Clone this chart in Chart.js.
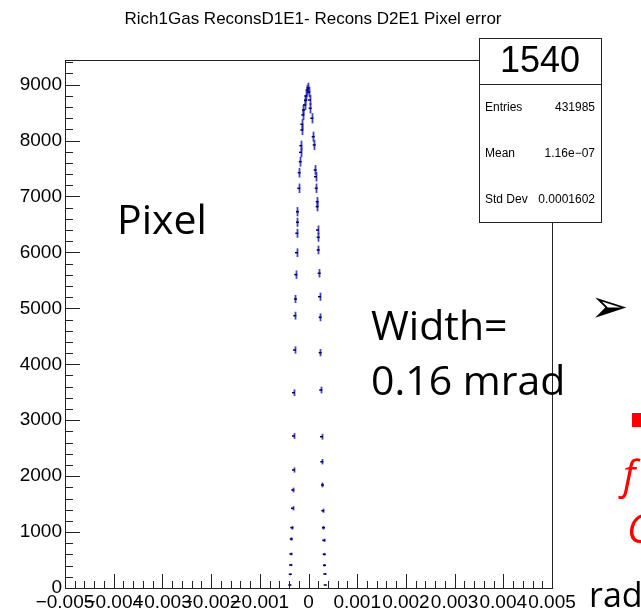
<!DOCTYPE html>
<html>
<head>
<meta charset="utf-8">
<script src="https://cdn.jsdelivr.net/npm/chart.js@4.4.1/dist/chart.umd.min.js"></script>
<style>
    html, body { margin: 0; padding: 0; background: #ffffff; }
</style>
</head>
<body>
<canvas id="hist" width="641" height="613"></canvas>
<script>
// histogram bins (bin centre in rad, entries)
const binX = [
    -0.000384, -0.000375, -0.000369, -0.000363, -0.000355, -0.000343, -0.000328, -0.000322,
    -0.000308, -0.000308, -0.000308, -0.000287, -0.000281, -0.000267, -0.000261, -0.000246,
    -0.000240, -0.000226, -0.000226, -0.000199, -0.000191, -0.000170, -0.000164, -0.000158,
    -0.000137, -0.000137, -0.000117, -0.000103, -0.000082, -0.000062, -0.000051, -0.000031,
    -0.000014, 0.000006, 0.000021, 0.000035, 0.000068, 0.000096, 0.000117, 0.000137,
    0.000144, 0.000158, 0.000178, 0.000178, 0.000185, 0.000199, 0.000199, 0.000219,
    0.000226, 0.000240, 0.000240, 0.000252, 0.000267, 0.000273, 0.000287, 0.000293,
    0.000308, 0.000314, 0.000322, 0.000328, 0.000334, 0.000343
];
const binCount = [
    54, 245, 411, 608, 876, 1078, 1425, 1752,
    2110, 2718, 3492, 4255, 4869, 5167, 5602, 5995,
    6342, 6539, 6728, 7146, 7425, 7622, 7790, 7908,
    8189, 8291, 8457, 8546, 8636, 8720, 8797, 8904,
    8940, 8868, 8725, 8577, 8398, 8069, 7921, 7474,
    7354, 7146, 6907, 6818, 6401, 6270, 6043, 5627,
    5208, 4840, 4207, 3540, 2705, 2258, 1842, 1382,
    1078, 853, 603, 406, 250, 54
];

const xTickValues = [-0.005, -0.004, -0.003, -0.002, -0.001, 0, 0.001, 0.002, 0.003, 0.004, 0.005];
const xTickLabels = ["\u22120.005", "\u22120.004", "\u22120.003", "\u22120.002", "\u22120.001", "0",
    "0.001", "0.002", "0.003", "0.004", "0.005"];
const yTickValues = [0, 1000, 2000, 3000, 4000, 5000, 6000, 7000, 8000, 9000];

const histTitle = "Rich1Gas ReconsD1E1- Recons D2E1 Pixel error";
const statsName = "1540";
const statLabels = ["Entries", "Mean", "Std Dev"];
const statValues = ["431985", "1.16e\u221207", "0.0001602"];

const xMin = -0.005, xMax = 0.005;
const yMin = 0, yMax = 9440;

const ROOT_FONT = "'Liberation Sans', Arial, sans-serif";
const SLIDE_FONT = "'Open Sans', sans-serif";

// ROOT style frame, inward ticks, error bars, stats box and slide leftovers
const rootDecor = {
    id: "rootDecor",

    beforeDraw(chart) {
        const ctx = chart.ctx;
        ctx.save();
        ctx.fillStyle = "#ffffff";
        ctx.fillRect(0, 0, chart.width, chart.height);
        ctx.restore();
    },

    beforeDatasetsDraw(chart) {
        const ctx = chart.ctx;
        const xs = chart.scales.x;
        const ys = chart.scales.y;
        ctx.save();
        ctx.strokeStyle = "rgba(35, 35, 190, 0.85)";
        ctx.lineWidth = 1.8;
        for (let i = 0; i < binX.length; i++) {
            const err = Math.sqrt(binCount[i]);
            const px = Math.round(xs.getPixelForValue(binX[i])) + 0.5;
            ctx.beginPath();
            ctx.moveTo(px, ys.getPixelForValue(binCount[i] + err));
            ctx.lineTo(px, ys.getPixelForValue(binCount[i] - err));
            ctx.stroke();
        }
        ctx.restore();
    },

    afterDraw(chart) {
        const ctx = chart.ctx;
        const a = chart.chartArea;
        const xs = chart.scales.x;
        const ys = chart.scales.y;

        ctx.save();

        // frame
        ctx.strokeStyle = "#222222";
        ctx.lineWidth = 1;
        ctx.strokeRect(Math.round(a.left) + 0.5, Math.round(a.top) + 0.5,
            Math.round(a.right - a.left), Math.round(a.bottom - a.top));

        // y ticks, drawn inside the frame
        ctx.beginPath();
        for (let v = 0; v <= yMax; v += 200) {
            const py = Math.round(ys.getPixelForValue(v)) + 0.5;
            const len = v % 1000 === 0 ? 15 : 8;
            ctx.moveTo(a.left, py);
            ctx.lineTo(a.left + len, py);
        }
        // x ticks, drawn up from the bottom
        for (let k = 0; k <= 50; k++) {
            const v = xMin + k * 0.0002;
            const px = Math.round(xs.getPixelForValue(v)) + 0.5;
            const len = k % 5 === 0 ? 14 : 7;
            ctx.moveTo(px, a.bottom);
            ctx.lineTo(px, a.bottom - len);
        }
        ctx.stroke();

        // title
        ctx.fillStyle = "#000000";
        ctx.font = "17px " + ROOT_FONT;
        ctx.textAlign = "center";
        ctx.textBaseline = "middle";
        ctx.fillText(histTitle, 313, 19);

        // stats box
        const bx = 479, by = 38, bw = 122, bh = 184;
        ctx.fillStyle = "#ffffff";
        ctx.fillRect(bx, by, bw, bh);
        ctx.strokeStyle = "#222222";
        ctx.strokeRect(bx + 0.5, by + 0.5, bw, bh);
        ctx.beginPath();
        ctx.moveTo(bx, by + 46.5);
        ctx.lineTo(bx + bw, by + 46.5);
        ctx.stroke();

        ctx.fillStyle = "#000000";
        ctx.font = "36px " + ROOT_FONT;
        ctx.textAlign = "center";
        ctx.fillText(statsName, bx + bw / 2, by + 24);

        ctx.font = "12px " + ROOT_FONT;
        const rows = [108, 154, 200];
        for (let i = 0; i < statLabels.length; i++) {
            ctx.textAlign = "left";
            ctx.fillText(statLabels[i], 485, rows[i]);
            ctx.textAlign = "right";
            ctx.fillText(statValues[i], 595, rows[i]);
        }

        // text that sits on top of the plot in the slide
        ctx.textAlign = "left";
        ctx.font = "41px " + SLIDE_FONT;
        ctx.fillText("Pixel", 117, 222);
        ctx.fillText("Width=", 371, 328);
        ctx.fillText("0.16 mrad", 371, 383);
        ctx.font = "34px " + SLIDE_FONT;
        ctx.fillText("rad", 589, 597);

        ctx.font = "46px 'DejaVu Sans'";
        ctx.fillText("\u27A2", 590, 310);

        ctx.fillStyle = "#ff0000";
        ctx.fillRect(632, 413, 10, 14);
        ctx.font = "italic 40px " + SLIDE_FONT;
        ctx.fillText("f", 623, 478);
        ctx.fillText("C", 627, 532);

        ctx.restore();
    }
};

new Chart(document.getElementById("hist"), {
    type: "scatter",

    data: {
        datasets: [
            {
                data: binX.map((x, i) => ({ x: x, y: binCount[i] })),
                showLine: false,
                pointStyle: "line",
                pointRadius: 1.5,
                pointHoverRadius: 1.5,
                borderColor: "#000055",
                backgroundColor: "#000055",
                borderWidth: 1.5
            }
        ]
    },

    options: {
        responsive: false,
        animation: false,

        layout: {
            padding: {
                top: 60,
                right: 89,
                left: 0,
                bottom: 0
            }
        },

        scales: {
            x: {
                type: "linear",
                min: xMin,
                max: xMax,
                afterBuildTicks: scale => {
                    scale.ticks = xTickValues.map(v => ({ value: v }));
                },
                afterFit: scale => { scale.height = 25; },
                grid: {
                    display: false,
                    drawTicks: false
                },
                border: {
                    display: false
                },
                ticks: {
                    autoSkip: false,
                    maxRotation: 0,
                    minRotation: 0,
                    padding: 3,
                    color: "#000000",
                    font: {
                        family: ROOT_FONT,
                        size: 19
                    },
                    callback: (value, index) => xTickLabels[index]
                }
            },

            y: {
                type: "linear",
                min: yMin,
                max: yMax,
                afterBuildTicks: scale => {
                    scale.ticks = yTickValues.map(v => ({ value: v }));
                },
                afterFit: scale => { scale.width = 65; },
                grid: {
                    display: false,
                    drawTicks: false
                },
                border: {
                    display: false
                },
                ticks: {
                    autoSkip: false,
                    padding: 3,
                    color: "#000000",
                    font: {
                        family: ROOT_FONT,
                        size: 19
                    },
                    callback: value => String(value)
                }
            }
        },

        plugins: {
            legend: {
                display: false
            },
            tooltip: {
                enabled: false
            }
        }
    },

    plugins: [rootDecor]
});
</script>
</body>
</html>
